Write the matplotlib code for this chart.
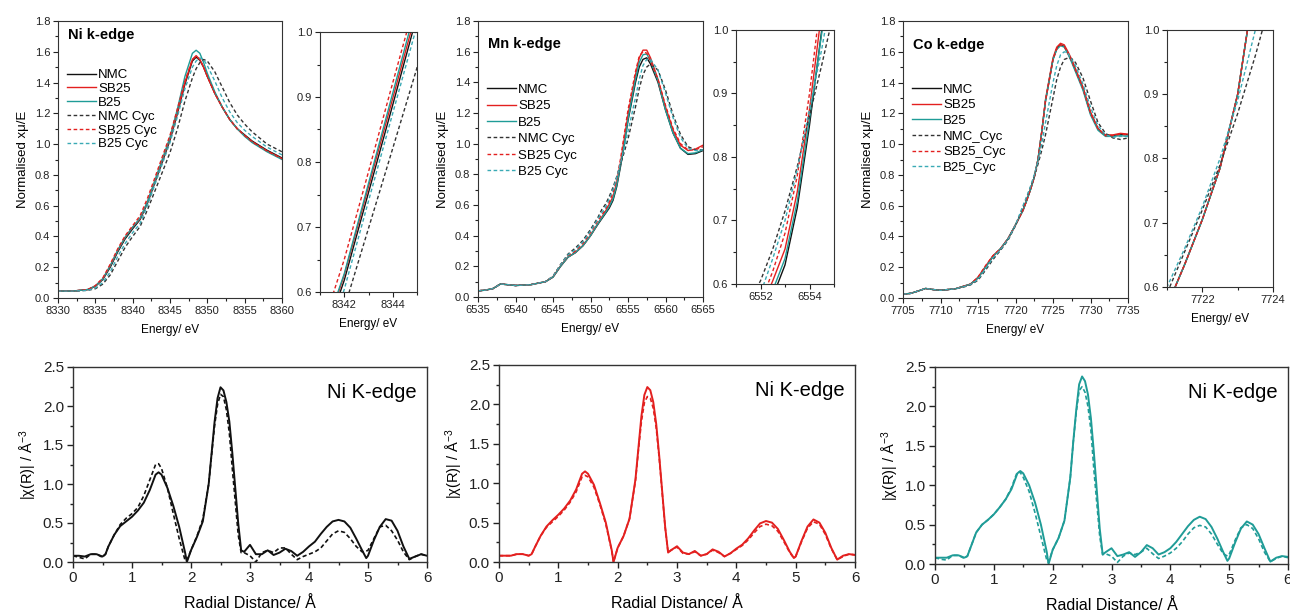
import numpy as np
import matplotlib
matplotlib.use("Agg")
import matplotlib.pyplot as plt
from matplotlib.ticker import MultipleLocator

plt.rcParams['font.family'] = ['Liberation Sans', 'DejaVu Sans']
plt.rcParams['mathtext.default'] = 'regular'

W, H = 1290, 614

# ---------------- XANES data (top row) ----------------
labels_a = ["NMC", "SB25", "B25", "NMC Cyc", "SB25 Cyc", "B25 Cyc"]
labels_co = ["NMC", "SB25", "B25", "NMC_Cyc", "SB25_Cyc", "B25_Cyc"]

E_ni = [8330, 8332, 8334, 8335, 8336, 8337, 8338, 8339, 8340, 8341, 8342, 8343, 8344, 8345,
        8346, 8347, 8348, 8348.5, 8349, 8349.5, 8350, 8351, 8352, 8353, 8354, 8355, 8356, 8358, 8360]
ni_nmc = [.045, .045, .055, .075, .12, .20, .30, .385, .45, .51, .618, .753, .888, 1.025,
          1.20, 1.39, 1.54, 1.565, 1.545, 1.50, 1.44, 1.33, 1.24, 1.16, 1.10, 1.06, 1.02, .96, .91]
ni_sb25 = [.045, .045, .055, .078, .125, .21, .31, .395, .46, .515, .626, .762, .898, 1.035,
           1.21, 1.40, 1.55, 1.575, 1.55, 1.50, 1.44, 1.33, 1.24, 1.16, 1.10, 1.055, 1.015, .955, .905]
ni_b25 = [.045, .045, .055, .078, .125, .21, .31, .395, .46, .52, .628, .767, .906, 1.045,
          1.23, 1.44, 1.59, 1.61, 1.59, 1.53, 1.46, 1.34, 1.24, 1.16, 1.10, 1.05, 1.01, .95, .90]
ni_nmc_cyc = [.045, .045, .05, .06, .09, .15, .24, .33, .40, .465, .575, .698, .821, .945,
              1.10, 1.28, 1.43, 1.49, 1.53, 1.55, 1.54, 1.47, 1.37, 1.27, 1.19, 1.13, 1.08, 1.00, .95]
ni_sb25_cyc = [.045, .045, .055, .08, .13, .22, .32, .405, .47, .535, .65, .785, .922, 1.057,
               1.23, 1.41, 1.55, 1.57, 1.55, 1.50, 1.44, 1.33, 1.24, 1.16, 1.10, 1.055, 1.015, .955, .905]
ni_b25_cyc = [.045, .045, .05, .065, .10, .17, .27, .355, .425, .485, .604, .74, .875, 1.01,
              1.18, 1.36, 1.50, 1.54, 1.56, 1.55, 1.51, 1.41, 1.30, 1.21, 1.14, 1.09, 1.05, .98, .93]

E_mn = [6535, 6536, 6537, 6538, 6539, 6540, 6542, 6544, 6545, 6546, 6547, 6548, 6549, 6550, 6551,
        6551.5, 6552, 6552.5, 6553, 6553.5, 6554, 6554.5, 6555, 6556, 6556.5, 6557, 6557.5, 6558,
        6559, 6560, 6561, 6562, 6563, 6564, 6565]
mn_nmc = [.04, .045, .055, .085, .08, .075, .08, .10, .13, .20, .26, .29, .335, .40, .475,
          .51, .545, .58, .63, .72, .85, 1.0, 1.15, 1.40, 1.50, 1.55, 1.56, 1.52,
          1.40, 1.22, 1.07, .97, .93, .935, .955]
mn_sb25 = [.04, .045, .055, .085, .08, .075, .08, .10, .13, .20, .26, .29, .335, .40, .48,
           .52, .56, .605, .655, .745, .875, 1.03, 1.19, 1.45, 1.56, 1.61, 1.61, 1.56,
           1.42, 1.24, 1.09, .99, .955, .965, .99]
mn_b25 = [.04, .045, .055, .085, .08, .075, .08, .10, .13, .20, .26, .29, .335, .40, .48,
          .515, .55, .59, .64, .73, .86, .995, 1.16, 1.42, 1.53, 1.58, 1.585, 1.54,
          1.41, 1.22, 1.07, .97, .935, .94, .96]
mn_nmc_cyc = [.04, .045, .055, .085, .08, .075, .08, .10, .135, .21, .28, .32, .37, .44, .52,
              .57, .605, .655, .715, .785, .865, .945, 1.03, 1.24, 1.36, 1.45, 1.50, 1.52,
              1.48, 1.35, 1.19, 1.06, .98, .96, .96]
mn_sb25_cyc = [.04, .045, .055, .085, .08, .075, .08, .10, .135, .21, .27, .30, .35, .42, .50,
               .535, .57, .62, .68, .77, .90, 1.06, 1.22, 1.47, 1.57, 1.60, 1.59, 1.54,
               1.42, 1.25, 1.10, 1.0, .96, .96, .98]
mn_b25_cyc = [.04, .045, .055, .085, .08, .075, .08, .10, .135, .21, .275, .31, .36, .43, .51,
              .55, .585, .64, .70, .78, .875, .97, 1.08, 1.30, 1.42, 1.51, 1.55, 1.55,
              1.48, 1.33, 1.17, 1.04, .97, .955, .96]

E_co = [7705, 7706, 7707, 7708, 7709, 7710, 7712, 7713, 7714, 7715, 7716, 7717, 7718, 7719, 7720,
        7721, 7721.5, 7722, 7722.5, 7723, 7723.5, 7724, 7725, 7725.5, 7726, 7726.5, 7727, 7727.5,
        7728, 7729, 7730, 7731, 7732, 7733, 7734, 7735]
co_nmc = [.025, .03, .045, .062, .055, .05, .06, .075, .09, .13, .20, .27, .32, .385, .475,
          .57, .635, .705, .785, .90, 1.08, 1.28, 1.55, 1.62, 1.645, 1.635, 1.59, 1.54,
          1.48, 1.36, 1.20, 1.10, 1.055, 1.055, 1.065, 1.06]
co_sb25 = [.025, .03, .045, .062, .055, .05, .06, .075, .09, .135, .205, .275, .32, .385, .475,
           .57, .635, .705, .785, .90, 1.08, 1.29, 1.56, 1.63, 1.655, 1.645, 1.60, 1.55,
           1.49, 1.37, 1.21, 1.10, 1.06, 1.06, 1.07, 1.065]
co_b25 = [.025, .03, .045, .062, .055, .05, .06, .075, .09, .13, .20, .27, .32, .385, .475,
          .57, .635, .705, .785, .90, 1.08, 1.28, 1.55, 1.615, 1.64, 1.63, 1.585, 1.53,
          1.47, 1.35, 1.19, 1.09, 1.05, 1.05, 1.055, 1.05]
co_nmc_cyc = [.025, .03, .045, .062, .055, .05, .06, .07, .085, .115, .18, .25, .31, .375, .47,
              .59, .655, .72, .79, .87, .96, 1.06, 1.30, 1.42, 1.50, 1.55, 1.56, 1.555,
              1.53, 1.43, 1.28, 1.14, 1.07, 1.04, 1.03, 1.04]
co_sb25_cyc = [.025, .03, .045, .062, .055, .05, .06, .075, .09, .135, .21, .275, .32, .385, .475,
               .57, .635, .705, .785, .90, 1.08, 1.28, 1.55, 1.62, 1.645, 1.635, 1.59, 1.54,
               1.48, 1.36, 1.20, 1.10, 1.055, 1.055, 1.065, 1.06]
co_b25_cyc = [.025, .03, .045, .062, .055, .05, .06, .072, .088, .12, .19, .26, .315, .38, .475,
              .60, .66, .725, .80, .89, 1.00, 1.14, 1.40, 1.51, 1.58, 1.60, 1.59, 1.55,
              1.51, 1.39, 1.24, 1.12, 1.06, 1.045, 1.05, 1.05]

# ---------------- EXAFS FT data (bottom row) ----------------
R = [0.0, 0.1, 0.2, 0.3, 0.4, 0.5, 0.55, 0.6, 0.7, 0.8,
     0.9, 1.0, 1.1, 1.2, 1.3, 1.4, 1.45, 1.5, 1.6, 1.7,
     1.8, 1.9, 1.93, 2.0, 2.1, 2.2, 2.3, 2.35, 2.4, 2.45,
     2.5, 2.55, 2.6, 2.65, 2.7, 2.8, 2.85, 2.9, 3.0, 3.1,
     3.2, 3.3, 3.4, 3.5, 3.6, 3.7, 3.8, 3.9, 4.0, 4.1,
     4.2, 4.3, 4.4, 4.5, 4.6, 4.7, 4.8, 4.9, 4.97, 5.0,
     5.1, 5.2, 5.3, 5.4, 5.5, 5.6, 5.7, 5.8, 5.9, 6.0]
ft_nmc = [.08, .08, .07, .10, .10, .07, .10, .20, .35, .46,
          .52, .58, .66, .76, .92, 1.12, 1.15, 1.12, .95, .72,
          .45, .12, .00, .15, .32, .52, 1.00, 1.40, 1.80, 2.10,
          2.24, 2.20, 2.05, 1.80, 1.40, .50, .15, .13, .22, .10,
          .10, .15, .09, .12, .17, .14, .08, .13, .20, .26,
          .36, .45, .52, .54, .52, .44, .30, .15, .05, .08,
          .28, .45, .55, .53, .40, .20, .04, .07, .10, .08]
ft_nmc_cyc = [.08, .06, .04, .10, .10, .06, .10, .20, .35, .48,
              .56, .62, .70, .85, 1.05, 1.25, 1.26, 1.20, .95, .62,
              .30, .02, .02, .15, .33, .55, 1.00, 1.38, 1.75, 2.02,
              2.15, 2.12, 1.95, 1.65, 1.20, .35, .12, .12, .08, .00,
              .12, .15, .12, .18, .18, .10, .03, .07, .10, .13,
              .18, .27, .36, .40, .38, .30, .20, .13, .14, .15,
              .30, .45, .47, .40, .28, .13, .03, .07, .10, .08]
ft_sb25 = [.08, .08, .08, .10, .10, .08, .10, .18, .33, .45,
           .53, .60, .68, .78, .92, 1.12, 1.15, 1.12, .98, .75,
           .50, .15, .00, .18, .33, .55, 1.05, 1.45, 1.85, 2.12,
           2.22, 2.18, 2.03, 1.75, 1.35, .45, .12, .15, .20, .12,
           .10, .14, .08, .10, .16, .13, .07, .11, .17, .22,
           .30, .40, .49, .52, .50, .42, .28, .13, .05, .07,
           .27, .45, .54, .50, .37, .18, .03, .08, .10, .09]
ft_sb25_cyc = [.08, .08, .08, .10, .10, .08, .10, .18, .33, .44,
               .51, .58, .66, .76, .89, 1.08, 1.10, 1.08, .95, .73,
               .48, .14, .00, .18, .33, .55, 1.03, 1.42, 1.78, 2.02,
               2.10, 2.08, 1.95, 1.70, 1.32, .44, .12, .15, .19, .11,
               .10, .13, .08, .10, .15, .12, .07, .11, .16, .21,
               .28, .37, .45, .48, .46, .39, .26, .12, .05, .07,
               .26, .43, .51, .48, .35, .17, .03, .07, .10, .09]
ft_b25 = [.08, .08, .08, .11, .11, .08, .10, .20, .40, .50,
          .56, .63, .72, .82, .95, 1.15, 1.18, 1.15, 1.00, .78,
          .50, .15, .00, .18, .33, .55, 1.10, 1.55, 1.95, 2.28,
          2.38, 2.32, 2.15, 1.85, 1.42, .45, .12, .15, .20, .10,
          .12, .15, .09, .15, .24, .20, .12, .15, .20, .28,
          .38, .48, .56, .60, .57, .47, .32, .15, .04, .07,
          .27, .45, .54, .50, .38, .20, .03, .08, .10, .09]
ft_b25_cyc = [.08, .06, .05, .11, .11, .07, .10, .20, .40, .50,
              .56, .63, .72, .82, .97, 1.17, 1.16, 1.10, .92, .65,
              .35, .05, .02, .18, .33, .55, 1.10, 1.55, 1.92, 2.20,
              2.25, 2.18, 2.00, 1.70, 1.20, .35, .12, .13, .10, .02,
              .10, .14, .12, .15, .20, .13, .07, .10, .14, .20,
              .28, .38, .46, .49, .47, .38, .25, .13, .10, .12,
              .30, .46, .50, .45, .32, .15, .03, .07, .10, .08]

BLACK = '#111111'
RED = '#e3201f'
TEAL = '#1f9c97'
TEAL_D = '#3aaab5'
colors = [BLACK, RED, TEAL, '#333333', RED, TEAL_D]
dash = (0, (2.6, 1.8))


def add_ax(l, t, r, b):
    return fig.add_axes([l / W, 1 - b / H, (r - l) / W, (b - t) / H])


def style(ax, fs, lw, maj, mn):
    for s in ax.spines.values():
        s.set_color('#333333')
        s.set_linewidth(lw)
    ax.tick_params(which='major', direction='out', length=maj, width=lw, labelsize=fs,
                   colors='#222222', pad=2)
    ax.tick_params(which='minor', direction='out', length=mn, width=lw, colors='#222222')


def draw_xanes(ax, E, series, labels):
    for i, y in enumerate(series):
        ls = '-' if i < 3 else dash
        ax.plot(E, y, color=colors[i], lw=1.0, linestyle=ls, label=labels[i])


fig = plt.figure(figsize=(W / 100, H / 100), dpi=100)

# (x data, series, labels, title, main box px, xlim, inset box px, inset xlim,
#  inset xlabel?, legend top (axes frac), title y (axes frac), legend spacing)
top = [
    (E_ni, [ni_nmc, ni_sb25, ni_b25, ni_nmc_cyc, ni_sb25_cyc, ni_b25_cyc], labels_a, "Ni k-edge",
     (58, 21, 282, 298), (8330, 8360), (320, 32, 417, 292), (8341, 8345), True, 0.86, 0.948, 0.12),
    (E_mn, [mn_nmc, mn_sb25, mn_b25, mn_nmc_cyc, mn_sb25_cyc, mn_b25_cyc], labels_a, "Mn k-edge",
     (478, 21, 703, 297), (6535, 6565), (736, 30, 834, 284), (6551, 6555), False, 0.807, 0.917, 0.32),
    (E_co, [co_nmc, co_sb25, co_b25, co_nmc_cyc, co_sb25_cyc, co_b25_cyc], labels_co, "Co k-edge",
     (903, 21, 1128, 298), (7705, 7735), (1167, 30, 1273, 287), (7721, 7724), True, 0.808, 0.913, 0.26),
]

for E, series, labels, title, box, xl, ibox, ixl, ilabel, leg_top, title_y, lsp in top:
    ax = add_ax(*box)
    draw_xanes(ax, E, series, labels)
    ax.set_xlim(*xl)
    ax.set_ylim(0, 1.8)
    ax.xaxis.set_major_locator(MultipleLocator(5))
    ax.xaxis.set_minor_locator(MultipleLocator(2.5))
    ax.yaxis.set_major_locator(MultipleLocator(0.2))
    ax.yaxis.set_minor_locator(MultipleLocator(0.1))
    style(ax, 8, 0.8, 3.5, 2)
    ax.set_ylabel("Normalised xμ/E", fontsize=9.5, labelpad=4)
    ax.set_xlabel("Energy/ eV", fontsize=8.5, labelpad=6)
    ax.text(0.045, title_y, title, transform=ax.transAxes, fontsize=10.5, fontweight='bold',
            va='center', ha='left')
    ax.legend(loc='upper left', bbox_to_anchor=(0.0, leg_top), frameon=False, fontsize=9.5,
              handlelength=2.2, handletextpad=0.15, labelspacing=lsp, borderaxespad=0.3)

    ia = add_ax(*ibox)
    draw_xanes(ia, E, series, labels)
    ia.set_xlim(*ixl)
    ia.set_ylim(0.6, 1.0)
    ia.xaxis.set_major_locator(MultipleLocator(2))
    ia.xaxis.set_minor_locator(MultipleLocator(1))
    ia.yaxis.set_major_locator(MultipleLocator(0.1))
    ia.yaxis.set_minor_locator(MultipleLocator(0.05))
    style(ia, 8, 0.8, 3.5, 2)
    if ilabel:
        ia.set_xlabel("Energy/ eV", fontsize=8.5, labelpad=6)

bottom = [
    ((73, 367, 427, 562), ft_nmc, ft_nmc_cyc, BLACK),
    ((499, 365, 855, 562), ft_sb25, ft_sb25_cyc, RED),
    ((935, 367, 1288, 564), ft_b25, ft_b25_cyc, TEAL),
]

for box, solid, dashed, c in bottom:
    ax = add_ax(*box)
    ax.plot(R, solid, color=c, lw=1.4)
    ax.plot(R, dashed, color=c, lw=1.2, linestyle=(0, (2.5, 1.6)))
    ax.set_xlim(0, 6)
    ax.set_ylim(0, 2.5)
    ax.xaxis.set_major_locator(MultipleLocator(1))
    ax.xaxis.set_minor_locator(MultipleLocator(0.5))
    ax.yaxis.set_major_locator(MultipleLocator(0.5))
    ax.yaxis.set_minor_locator(MultipleLocator(0.25))
    style(ax, 11, 1.0, 4.5, 2.5)
    ax.set_xlabel("Radial Distance/ Å", fontsize=11.5, labelpad=8)
    ax.set_ylabel("|χ(R)| / Å$^{-3}$", fontsize=10.5, labelpad=3)
    ax.text(0.97, 0.87, "Ni K-edge", transform=ax.transAxes, fontsize=14.5,
            ha='right', va='center')

fig.savefig("out.png", dpi=100)
